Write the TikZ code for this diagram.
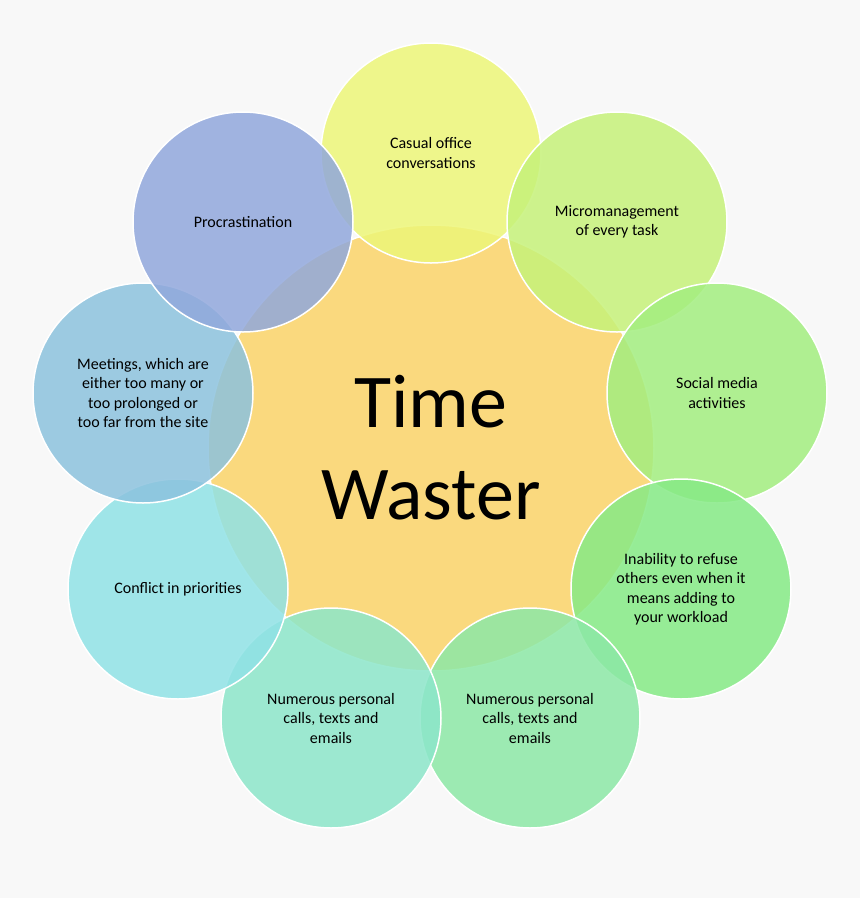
\documentclass[tikz,border=0pt]{standalone}
\usepackage{fontspec}
\setmainfont{Carlito}
\begin{document}
\begin{tikzpicture}[x=1pt,y=-1pt,
  petal/.style={circle,draw=white,line width=1.5pt,fill opacity=0.85,minimum size=220pt,inner sep=0pt,text opacity=1,align=center,font=\fontsize{16}{19.5}\selectfont},
  hub/.style={circle,draw=white,line width=1.5pt,minimum size=446pt,inner sep=0pt,fill=hubc,align=center,font=\fontsize{76}{92}\selectfont}]
\definecolor{bgc}{HTML}{F8F8F8}
\definecolor{hubc}{HTML}{FAD97E}
\definecolor{c1}{HTML}{EDF679}
\definecolor{c2}{HTML}{C6F27A}
\definecolor{c3}{HTML}{A3EE80}
\definecolor{c4}{HTML}{86EA86}
\definecolor{c5}{HTML}{8CE8A6}
\definecolor{c6}{HTML}{8CE6CA}
\definecolor{c7}{HTML}{90E2E6}
\definecolor{c8}{HTML}{8CC2DE}
\definecolor{c9}{HTML}{91A8DC}
\fill[bgc] (0,0) rectangle (860,898);
\useasboundingbox (0,0) rectangle (860,898);
\node[hub] (hub) at (431,448) {Time\\Waster};
\node[petal,fill=c1] (p1) at (431,153) {Casual office\\conversations};
\node[petal,fill=c2] (p2) at (617,222) {Micromanagement\\of every task};
\node[petal,fill=c3] (p3) at (717,393) {Social media\\activities};
\node[petal,fill=c4] (p4) at (681,589) {Inability to refuse\\others even when it\\means adding to\\your workload};
\node[petal,fill=c5] (p5) at (530,718) {Numerous personal\\calls, texts and\\emails};
\node[petal,fill=c6] (p6) at (331,718) {Numerous personal\\calls, texts and\\emails};
\node[petal,fill=c7] (p7) at (178,589) {Conflict in priorities};
\node[petal,fill=c8] (p8) at (143,393) {Meetings, which are\\either too many or\\too prolonged or\\too far from the site};
\node[petal,fill=c9] (p9) at (243,222) {Procrastination};
\end{tikzpicture}
\end{document}
